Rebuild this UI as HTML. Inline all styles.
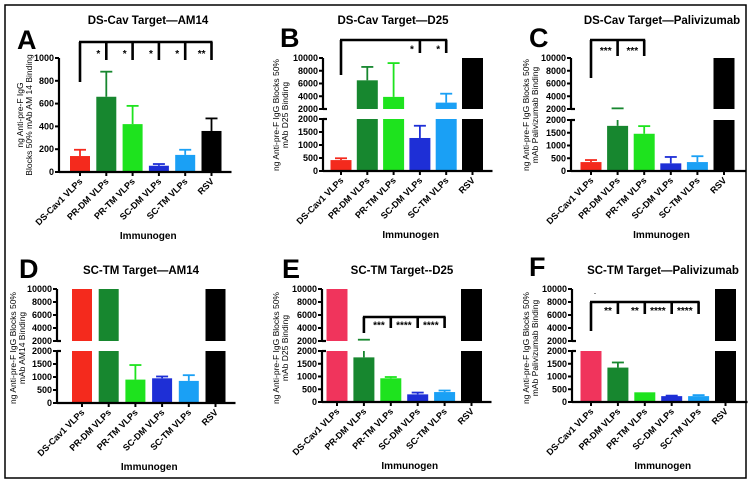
<!DOCTYPE html>
<html><head><meta charset="utf-8">
<style>
html,body{margin:0;padding:0;background:#fff;}
svg{display:block;font-family:"Liberation Sans",Arial,sans-serif;}
</style></head>
<body>
<svg id="fig" width="752" height="491" viewBox="0 0 752 491">
<rect x="5" y="5" width="741" height="473" fill="#fff" stroke="#000" stroke-width="1.5"/>
</svg>
<script>
const categories = ["DS-Cav1 VLPs","PR-DM VLPs","PR-TM VLPs","SC-DM VLPs","SC-TM VLPs","RSV"];
const aValues = [140, 660, 420, 55, 150, 360];
const aErrors = [55, 220, 160, 15, 45, 110];
const bValues = [420, 6500, 3900, 1270, 3000, 10000];
const bErrors = [70, 2100, 5300, 470, 1400, 0];
const cValues = [350, 1770, 1460, 300, 350, 10000];
const cErrors = [80, 330, 300, 250, 230, 0];
const dValues = [10000, 10000, 900, 950, 850, 10000];
const dErrors = [0, 0, 560, 70, 220, 0];
const eValues = [10000, 1750, 930, 300, 390, 10000];
const eErrors = [0, 450, 50, 70, 60, 0];
const fValues = [2000, 1350, 380, 230, 230, 10000];
const fErrors = [0, 200, 0, 20, 40, 0];
const linearTicks = [0, 200, 400, 600, 800, 1000];
const upperTicks = [2000, 4000, 6000, 8000, 10000];
const lowerTicks = [0, 500, 1000, 1500, 2000];
const colorsTop = ["#f42a1d","#17872f","#1ee31e","#1e2fd6","#1aa0f5","#000"];
const colorsBottom = ["#f0345c","#17872f","#1ee31e","#1e2fd6","#1aa0f5","#000"];

const NS = "http://www.w3.org/2000/svg";
const svg = document.getElementById("fig");
function mk(tag, attrs, parent, text){
  const e = document.createElementNS(NS, tag);
  for (const k in attrs) e.setAttribute(k, attrs[k]);
  if (text !== undefined) e.textContent = text;
  (parent || svg).appendChild(e);
  return e;
}
function line(g,x1,y1,x2,y2,w,c){ return mk("line",{x1,y1,x2,y2,stroke:c||"#000","stroke-width":w||2},g); }

const panels = [
 {id:"a",letter:"A",title:"DS-Cav Target\u2014AM14",vals:aValues,errs:aErrors,cols:colorsTop,broken:false,
  ax:59,x0:80,dx:26.3,bw:20,yTop:58,y0:172,letterX:17,letterY:49,titleX:148,titleY:24,
  ylab:["ng Anti-pre-F IgG","Blocks 50% mAb AM 14 Binding"],ylabX:23,ylabY:115,
  br:{y:42,x1:0,x2:5,drop0:82,drops:[1,2,3,4,5],dropY:60,stars:["*","*","*","*","**"]}},
 {id:"b",letter:"B",title:"DS-Cav Target\u2014D25",vals:bValues,errs:bErrors,cols:colorsTop,broken:true,
  ax:323,x0:341,dx:26.3,bw:21,yU10:58,yU2:109,yL2:119,y0:171,letterX:280,letterY:47,titleX:393,titleY:24,
  ylab:["ng Anti-pre-F IgG Blocks 50%","mAb D25 Binding"],ylabX:279,ylabY:115,
  br:{y:40,x1:0,x2:4,drop0:75,drops:[3,4],dropY:53,stars:["*","*"]}},
 {id:"c",letter:"C",title:"DS-Cav Target\u2014Palivizumab",vals:cValues,errs:cErrors,cols:colorsTop,broken:true,
  ax:571,x0:591,dx:26.6,bw:21,yU10:58,yU2:109,yL2:120,y0:171,letterX:529,letterY:47,titleX:662,titleY:24,
  ylab:["ng Anti-pre-F IgG Blocks 50%","mAb Palivizumab Binding"],ylabX:529,ylabY:115,
  br:{y:40,x1:0,x2:2,drop0:78,drops:[1,2],dropY:56,stars:["***","***"]}},
 {id:"d",letter:"D",title:"SC-TM Target\u2014AM14",vals:dValues,errs:dErrors,cols:colorsTop,broken:true,
  ax:57,x0:82,dx:26.7,bw:20,yU10:289,yU2:341,yL2:351,y0:403,letterX:19,letterY:278,titleX:141,titleY:274,
  ylab:["ng Anti-pre-F IgG Blocks 50%","mAb AM14 Binding"],ylabX:16,ylabY:348,br:null},
 {id:"e",letter:"E",title:"SC-TM Target--D25",vals:eValues,errs:eErrors,cols:colorsBottom,broken:true,
  ax:322,x0:337,dx:26.9,bw:21,yU10:289,yU2:341,yL2:351,y0:402,letterX:282,letterY:278,titleX:402,titleY:274,
  ylab:["ng Anti-pre-F IgG Blocks 50%","mAb D25 Binding"],ylabX:279,ylabY:348,
  br:{y:317,x1:1,x2:4,drop0:333,drops:[2,3,4],dropY:328,stars:["***","****","****"]}},
 {id:"f",letter:"F",title:"SC-TM Target\u2014Palivizumab",vals:fValues,errs:fErrors,cols:colorsBottom,broken:true,
  ax:572,x0:591,dx:26.9,bw:21,yU10:289,yU2:341,yL2:351,y0:402,letterX:529,letterY:276,titleX:663,titleY:274,
  ylab:["ng Anti-pre-F IgG Blocks 50%","mAb Palivizumab Binding"],ylabX:529,ylabY:348,
  br:{y:302,x1:0,x2:4,drop0:331,drops:[1,2,3,4],dropY:314,stars:["**","**","****","****"]},dot:true}
];

panels.forEach(p=>{
  const g = mk("g",{});
  
  
  const sc = v=>{
    if(!p.broken) return p.y0 - v/1000*(p.y0-p.yTop);
    if(v<=2000) return p.y0 - v/2000*(p.y0-p.yL2);
    return p.yU2 - (Math.min(v,10000)-2000)/8000*(p.yU2-p.yU10);
  };
  const cx = i=>p.x0 + i*p.dx;
  // letter + title
  const L = mk("text",{x:p.letterX,y:p.letterY,"font-size":27,"font-weight":"bold"},g,p.letter);
  
  
  const T = mk("text",{x:p.titleX,y:p.titleY,"font-size":11.5,"font-weight":"bold","text-anchor":"middle"},g,p.title);
  
  
  // y label
  const yl = mk("text",{transform:`translate(${p.ylabX},${p.ylabY}) rotate(-90)`,"font-size":8.5,"text-anchor":"middle"},g);
  
  
  mk("tspan",{x:0,dy:0},yl,p.ylab[0]);
  mk("tspan",{x:0,dy:9},yl,p.ylab[1]);
  // bars
  p.vals.forEach((v,i)=>{
    const c = p.cols[i], x = cx(i)-p.bw/2;
    const bg = mk("g",{},g);
    
    
    if(p.broken && v>2000){
      mk("rect",{x,y:p.yL2,width:p.bw,height:p.y0-p.yL2,fill:c},bg);
      mk("rect",{x,y:sc(v),width:p.bw,height:p.yU2-sc(v),fill:c},bg);
    } else {
      mk("rect",{x,y:sc(v),width:p.bw,height:p.y0-sc(v),fill:c},bg);
    }
    const e = p.errs[i];
    if(e>0){
      const top=v+e, X=cx(i);
      if(p.broken && v<=2000 && top>2000){
        line(bg,X,sc(v),X,p.yL2,1.8,c);
        line(bg,X-6,sc(top),X+6,sc(top),1.8,c);
      } else {
        line(bg,X,sc(v),X,sc(top),1.8,c);
        line(bg,X-6,sc(top),X+6,sc(top),1.8,c);
      }
    }
  });
  // axes
  const axEnd = cx(5)+ (p.id==="c"||p.id==="f" ? 22 : 20);
  const xa = line(g,p.ax,p.y0,axEnd,p.y0,2.2);
  
  
  const ya = mk("g",{},g);
  
  
  const tick = (v,y)=>{ line(ya,p.ax-4,y,p.ax,y,2); mk("text",{x:p.ax-5,y:y+3,"font-size":9,"font-weight":"bold","text-anchor":"end"},ya,v); };
  if(!p.broken){
    line(ya,p.ax,p.yTop,p.ax,p.y0+1,2.2);
    linearTicks.forEach(v=>tick(v,sc(v)));
  } else {
    line(ya,p.ax,p.yU10,p.ax,p.yU2,2.2);
    line(ya,p.ax,p.yL2,p.ax,p.y0+1,2.2);
    line(ya,p.ax,p.yU2,p.ax+4,p.yU2,2.2);
    line(ya,p.ax,p.yL2,p.ax+4,p.yL2,2.2);
    upperTicks.forEach(v=>tick(v,p.yU2-(v-2000)/8000*(p.yU2-p.yU10)));
    lowerTicks.forEach(v=>tick(v,sc(v)));
  }
  // x ticks + category labels
  categories.forEach((c,i)=>{
    line(g,cx(i),p.y0,cx(i),p.y0+4,2);
    const t = mk("text",{transform:`translate(${cx(i)+3},${p.y0+10}) rotate(-45)`,"font-size":9,"font-weight":"bold","text-anchor":"end"},g,c);
    
    
  });
  const xt = mk("text",{x:(p.ax+axEnd)/2+3,y:p.y0+67,"font-size":10,"font-weight":"bold","text-anchor":"middle"},g,"Immunogen");
  
  
  // significance bracket
  if(p.br){
    const b=p.br;
    const bg = mk("g",{},g);
    
    
    line(bg,cx(b.x1)-1,b.y,cx(b.x2)+1,b.y,2.6);
    line(bg,cx(b.x1),b.y,cx(b.x1),b.drop0,2.6);
    b.drops.forEach((d,k)=>{
      line(bg,cx(d),b.y,cx(d),b.dropY,2.6);
      mk("text",{x:cx(d)-6,y:b.y+(b.dropY-b.y)/2+6,"font-size":10,"font-weight":"bold","text-anchor":"end"},bg,b.stars[k]);
    });
  }
  if(p.dot) mk("text",{x:cx(0)+4,y:294,"font-size":9,"text-anchor":"middle"},g,".");
});
</script>
</body></html>
